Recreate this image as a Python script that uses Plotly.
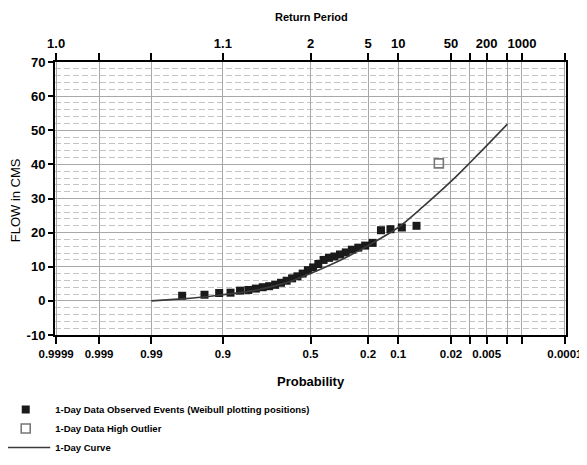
import plotly.graph_objects as go
from statistics import NormalDist

# ---------------- data ----------------
prob_ticks = [0.9999, 0.999, 0.99, 0.9, 0.5, 0.2, 0.1, 0.02, 0.01, 0.005, 0.002, 0.001, 0.0001]
prob_labels = ["0.9999", "0.999", "0.99", "0.9", "0.5", "0.2", "0.1", "0.02", "", "0.005", "", "", "0.0001"]
return_labels = ["1.0", "", "", "1.1", "2", "5", "10", "50", "", "200", "", "1000", ""]

obs_prob = [0.0606, 0.0909, 0.1212, 0.1515, 0.1818, 0.2121, 0.2424, 0.2727, 0.3030, 0.3333,
            0.3636, 0.3939, 0.4242, 0.4545, 0.4848, 0.5152, 0.5455, 0.5758, 0.6061, 0.6364,
            0.6667, 0.6970, 0.7273, 0.7576, 0.7879, 0.8182, 0.8485, 0.8788, 0.9091, 0.9394, 0.9697]
obs_flow = [22.0, 21.5, 21.0, 20.7, 17.0, 16.2, 15.6, 15.0, 14.2, 13.6,
            13.0, 12.6, 12.0, 10.8, 9.8, 9.0, 8.0, 7.2, 6.6, 5.9,
            5.3, 4.7, 4.3, 4.0, 3.6, 3.2, 3.0, 2.4, 2.3, 1.8, 1.5]

outlier_prob = [0.0303]
outlier_flow = [40.3]

curve_prob = [0.99, 0.97, 0.95, 0.9, 0.8, 0.7, 0.6, 0.5, 0.4, 0.3, 0.2, 0.1, 0.05, 0.02, 0.01, 0.005, 0.002]
curve_flow = [0.0, 0.6, 1.0, 1.8, 3.0, 4.4, 6.0, 8.0, 10.2, 12.8, 16.2, 21.5, 27.6, 35.0, 40.4, 45.5, 51.8]

y_ticks = [70, 60, 50, 40, 30, 20, 10, 0, -10]

# ------------- normal probability scale -------------
nd = NormalDist()


def zscale(ps):
    return [nd.inv_cdf(1 - p) for p in ps]


FONT = "Liberation Sans, Arial, sans-serif"

fig = go.Figure()

fig.add_trace(go.Scatter(
    x=zscale(obs_prob), y=obs_flow, mode="markers",
    name="1-Day Data Observed Events (Weibull plotting positions)",
    marker=dict(symbol="square", size=8, color="#1a1a1a", line=dict(width=0)),
))
fig.add_trace(go.Scatter(
    x=zscale(outlier_prob), y=outlier_flow, mode="markers",
    name="1-Day Data High Outlier",
    marker=dict(symbol="square-open", size=9, color="#777777", line=dict(width=1.6)),
))
fig.add_trace(go.Scatter(
    x=zscale(curve_prob), y=curve_flow, mode="lines",
    name="1-Day Curve",
    line=dict(color="#3a3a3a", width=1.6, shape="spline", smoothing=0.8),
))
# anchor trace for the top (return period) axis
fig.add_trace(go.Scatter(x=[None], y=[None], xaxis="x2", showlegend=False, hoverinfo="skip"))

zt = zscale(prob_ticks)
xr = [-3.735, 3.735]

fig.update_layout(
    width=579, height=457,
    margin=dict(l=47, r=21, t=54, b=130, autoexpand=False),
    paper_bgcolor="white", plot_bgcolor="white",
    font=dict(family=FONT, color="black"),
    showlegend=True,
    legend=dict(
        x=-0.115, xanchor="left", y=-0.22, yanchor="top",
        font=dict(family=FONT, size=9.5, color="black", weight="bold"),
        itemwidth=49, tracegroupgap=0, bgcolor="rgba(0,0,0,0)",
    ),
    xaxis=dict(
        range=xr, tickmode="array", tickvals=zt, ticktext=prob_labels,
        tickangle=0, automargin=False,
        showgrid=True, gridcolor="#a8a8a8", gridwidth=1,
        showline=True, linecolor="black", linewidth=2,
        ticks="outside", ticklen=7, tickwidth=2, tickcolor="black",
        tickfont=dict(family=FONT, size=11.5, weight="bold"),
        zeroline=False,
    ),
    xaxis2=dict(
        range=xr, overlaying="x", side="top", anchor="y",
        tickmode="array", tickvals=zt, ticktext=return_labels,
        tickangle=0, automargin=False,
        showgrid=False, showline=True, linecolor="black", linewidth=2,
        ticks="outside", ticklen=7, tickwidth=2, tickcolor="black",
        tickfont=dict(family=FONT, size=13, weight="bold"),
        zeroline=False,
    ),
    yaxis=dict(
        range=[-10, 70], tickmode="array", tickvals=y_ticks,
        ticktext=[str(v) for v in y_ticks], automargin=False,
        showgrid=True, gridcolor="#a8a8a8", gridwidth=1,
        minor=dict(dtick=2, showgrid=True, gridcolor="#c4c4c4", griddash="6px,3px", gridwidth=1),
        showline=True, linecolor="black", linewidth=2, mirror=True,
        ticks="outside", ticklen=5, tickwidth=2, tickcolor="black",
        tickfont=dict(family=FONT, size=13, weight="bold"),
        zeroline=False,
    ),
    annotations=[
        dict(text="Return Period", xref="paper", yref="paper", x=0.501, y=1.166,
             xanchor="center", yanchor="middle",
             showarrow=False, font=dict(family=FONT, size=11, weight="bold")),
        dict(text="Probability", xref="paper", yref="paper", x=0.501, y=-0.172,
             xanchor="center", yanchor="middle",
             showarrow=False, font=dict(family=FONT, size=13, weight="bold")),
        dict(text="FLOW in CMS", xref="paper", yref="paper", x=-0.078, y=0.494,
             xanchor="center", yanchor="middle",
             textangle=-90, showarrow=False,
             font=dict(family=FONT, size=13)),
    ],
)

fig.write_html("out.html")
